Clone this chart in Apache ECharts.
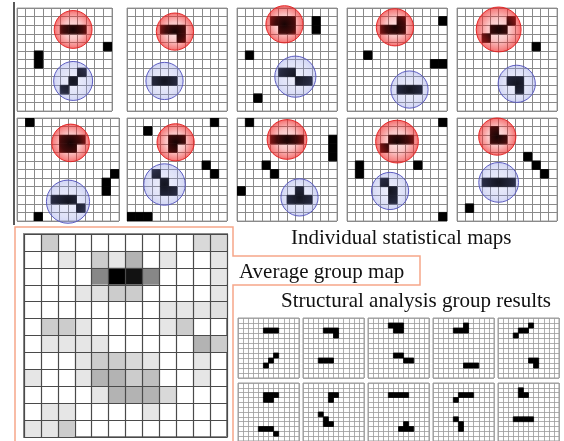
<!DOCTYPE html>
<html><head><meta charset="utf-8">
<script src="https://cdn.jsdelivr.net/npm/echarts@6/dist/echarts.min.js"></script>
<style>html,body{margin:0;padding:0;background:#fff}#c{width:564px;height:441px}</style>
</head><body><div id="c"></div>
<script>
// ---------- DATA ----------
const gridCells = 12;
// circled (red) structure per individual map: [col,row]
const redCells = [
  [[5,2],[6,2],[7,2]],
  [[4,2],[5,2],[6,2],[6,3]],
  [[4,1],[5,1],[6,1],[5,2],[6,2]],
  [[6,1],[4,2],[5,2],[6,2]],
  [[6,1],[4,2],[5,2],[3,3]],
  [[5,2],[6,2],[7,2],[5,3],[6,3]],
  [[5,2],[6,2],[5,3]],
  [[4,2],[5,2],[6,2],[7,2]],
  [[5,2],[6,2],[7,2],[4,3]],
  [[4,1],[4,2],[5,2]]
];
// circled (blue) structure per individual map
const blueCells = [
  [[7,7],[6,8],[5,9]],
  [[3,8],[4,8],[5,8]],
  [[5,7],[6,7],[7,8],[8,8]],
  [[6,9],[7,9],[8,9]],
  [[6,8],[7,8],[7,9]],
  [[4,9],[5,9],[6,9],[7,10]],
  [[3,6],[4,7],[4,8],[5,8]],
  [[7,8],[6,9],[7,9],[8,9]],
  [[4,7],[5,8],[5,9]],
  [[3,7],[4,7],[5,7],[6,7]]
];
// other (non-structural) active cells per individual map
const otherCells = [
  [[10,4],[2,5],[2,6]],
  [],
  [[9,1],[9,2],[1,5],[2,10]],
  [[11,1],[2,5],[10,6],[11,6]],
  [[9,4]],
  [[1,0],[11,6],[10,7],[10,8],[2,11]],
  [[10,0],[2,1],[9,5],[10,6],[0,11],[1,11],[2,11]],
  [[1,0],[11,2],[11,3],[11,4],[3,5],[4,6],[0,8]],
  [[11,0],[1,5],[8,5],[1,6],[11,11]],
  [[8,4],[9,5],[10,6],[1,10]]
];
// average group map (darkness 0..10), rows top->bottom
const avgMap = [
  [0,2,0,0,0,0,0,0,0,0,1.5,1.5],
  [0,0,1,0,2,1,3,0,1,0,0,1],
  [0,0,0,0,4.7,10,9.3,4.7,0,0,0,1],
  [0,0,0,1,1.2,2,2,0,0,0,0,1],
  [0,0,0,0,0,0,0,0,1,1,1,1.2],
  [0,2,2,1,0,0,0,0,1,2,0,0],
  [0,1,1,1,1,0,0,0,0,0,3,2],
  [0,0,0,1,2,2,1.5,1,0,0,1,0],
  [1,0,0,1,3,3,2,2.5,0,0,1,0],
  [0,0,0,0,1,3,3,3,1.5,0,0,0],
  [0,1,1,0,0,0,0,1,0,0,0,0],
  [1,1,2,0,0,0,0,0,0,0,0,0]
];
const labelTexts = ['Individual statistical maps','Average group map','Structural analysis group results'];

// ---------- BUILD ----------
const grids=[], xAxes=[], yAxes=[], series=[];
function addGrid(left, top, w, h, xmax, line, border, axisZ){
  const i = grids.length;
  grids.push({left:left, top:top, width:w, height:h, show:true, backgroundColor:'#fff',
    borderColor:border.color, borderWidth:border.width, containLabel:false});
  const common = {gridIndex:i, type:'value', min:0, interval:1,
    axisLabel:{show:false}, axisTick:{show:false}, axisLine:{show:false},
    splitLine:{show:true, lineStyle:{color:line.color, width:line.width}}, z:axisZ};
  xAxes.push(Object.assign({}, common, {max:xmax}));
  yAxes.push(Object.assign({}, common, {max:gridCells, inverse:true}));
  return i;
}
function cellSeries(gi, cells, fillFn, z, seam){
  return {type:'custom', xAxisIndex:gi, yAxisIndex:gi, data:cells, z:z, silent:true, animation:false, clip:true,
    renderItem:function(params, api){
      const c=api.value(0), r=api.value(1);
      const p0=api.coord([c,r]), p1=api.coord([c+1,r+1]);
      const col=fillFn(api);
      return {type:'rect', shape:{x:Math.min(p0[0],p1[0]), y:Math.min(p0[1],p1[1]),
        width:Math.abs(p1[0]-p0[0]), height:Math.abs(p1[1]-p0[1])},
        style: seam ? {fill:col, stroke:col, lineWidth:0.8} : {fill:col}};
    }};
}
function circleOf(cells){
  let sx=0, sy=0;
  cells.forEach(p=>{sx+=p[0]+0.5; sy+=p[1]+0.5;});
  const cx=sx/cells.length, cy=sy/cells.length;
  let far=0;
  cells.forEach(p=>{far=Math.max(far, Math.hypot(p[0]+0.5-cx, p[1]+0.5-cy));});
  return [cx, cy, Math.max(2.2, far+0.85)];
}
const redFill = () => new echarts.graphic.RadialGradient(0.5,0.5,0.5,[
  {offset:0,color:'rgba(240,40,40,0.1)'},{offset:0.5,color:'rgba(240,40,40,0.28)'},
  {offset:0.85,color:'rgba(240,40,40,0.55)'},{offset:1,color:'rgba(240,40,40,0.7)'}]);
const blueFill = () => new echarts.graphic.RadialGradient(0.5,0.5,0.5,[
  {offset:0,color:'rgba(140,150,230,0.14)'},{offset:0.7,color:'rgba(140,150,230,0.28)'},
  {offset:1,color:'rgba(140,150,230,0.4)'}]);
function circleSeries(gi, circles){
  return {type:'custom', xAxisIndex:gi, yAxisIndex:gi, data:circles, z:5, silent:true, animation:false, clip:false,
    renderItem:function(params, api){
      const cx=api.value(0), cy=api.value(1), r=api.value(2), kind=api.value(3);
      const p=api.coord([cx,cy]);
      const s=api.size([r,r]);
      const rad=(Math.abs(s[0])+Math.abs(s[1]))/2;
      return {type:'circle', shape:{cx:p[0], cy:p[1], r:rad},
        style:{fill: kind===0?redFill():blueFill(),
               stroke: kind===0?'rgba(225,35,35,0.95)':'rgba(85,85,190,0.95)', lineWidth:1}};
    }};
}

// individual maps
const topLefts=[17,127,237,347,457], topTops=[8,118];
for(let m=0;m<10;m++){
  const col=m%5, row=Math.floor(m/5);
  const xmax = (m===0)?11:12;
  const w = (m===0)?95:(m===5?102:100);
  const gi = addGrid(topLefts[col], topTops[row], w, 103, xmax,
    {color:'#8a8a8a', width:1}, {color:'#a0a0a0', width:1}, 0);
  const all = redCells[m].concat(blueCells[m]).concat(otherCells[m]);
  series.push(cellSeries(gi, all, ()=>'#000', 3, true));
  const rc=circleOf(redCells[m]), bc=circleOf(blueCells[m]);
  series.push(circleSeries(gi, [[rc[0],rc[1],rc[2],0],[bc[0],bc[1],bc[2],1]]));
}
// average map
const avgData=[];
avgMap.forEach((rowv,r)=>rowv.forEach((v,c)=>{ if(v>0) avgData.push([c,r,v]); }));
const ga = addGrid(24, 234, 203, 203, 12, {color:'#4a4a4a', width:1.2}, {color:'#8a8a8a', width:2}, 5);
series.push(cellSeries(ga, avgData, api=>{const g=Math.round(255*(1-api.value(2)/10)); return 'rgb('+g+','+g+','+g+')';}, 1, false));
// structural analysis group results
const botLefts=[238,303,368,433,498], botTops=[318,383];
for(let m=0;m<10;m++){
  const col=m%5, row=Math.floor(m/5);
  const gi = addGrid(botLefts[col], botTops[row], 61, 60, 12,
    {color:'#9a9a9a', width:0.8}, {color:'#9a9a9a', width:1}, 0);
  series.push(cellSeries(gi, redCells[m].concat(blueCells[m]), ()=>'#000', 3, true));
}

const tStyle = {fontFamily:'Liberation Serif', fontSize:21, fontWeight:'normal', color:'#111'};
const option = {
  animation:false,
  backgroundColor:'#fff',
  title:[
    {text:labelTexts[0], left:291, top:228, padding:0, textStyle:tStyle},
    {text:labelTexts[1], left:239, top:262, padding:0, textStyle:tStyle},
    {text:labelTexts[2], left:281, top:291, padding:0, textStyle:tStyle}
  ],
  grid:grids, xAxis:xAxes, yAxis:yAxes, series:series,
  graphic:[
    {type:'line', shape:{x1:14, y1:2, x2:14, y2:225}, style:{stroke:'#222', lineWidth:1.5}, z:10},
    {type:'polyline', shape:{points:[[15,441],[15,227],[233,227],[233,256],[420,256],[420,285],[233,285],[233,441]]},
      style:{stroke:'#f6a789', lineWidth:1.5, fill:null}, z:10}
  ]
};
const chart = echarts.init(document.getElementById('c'), null, {renderer:'canvas'});
chart.setOption(option);
</script></body></html>
